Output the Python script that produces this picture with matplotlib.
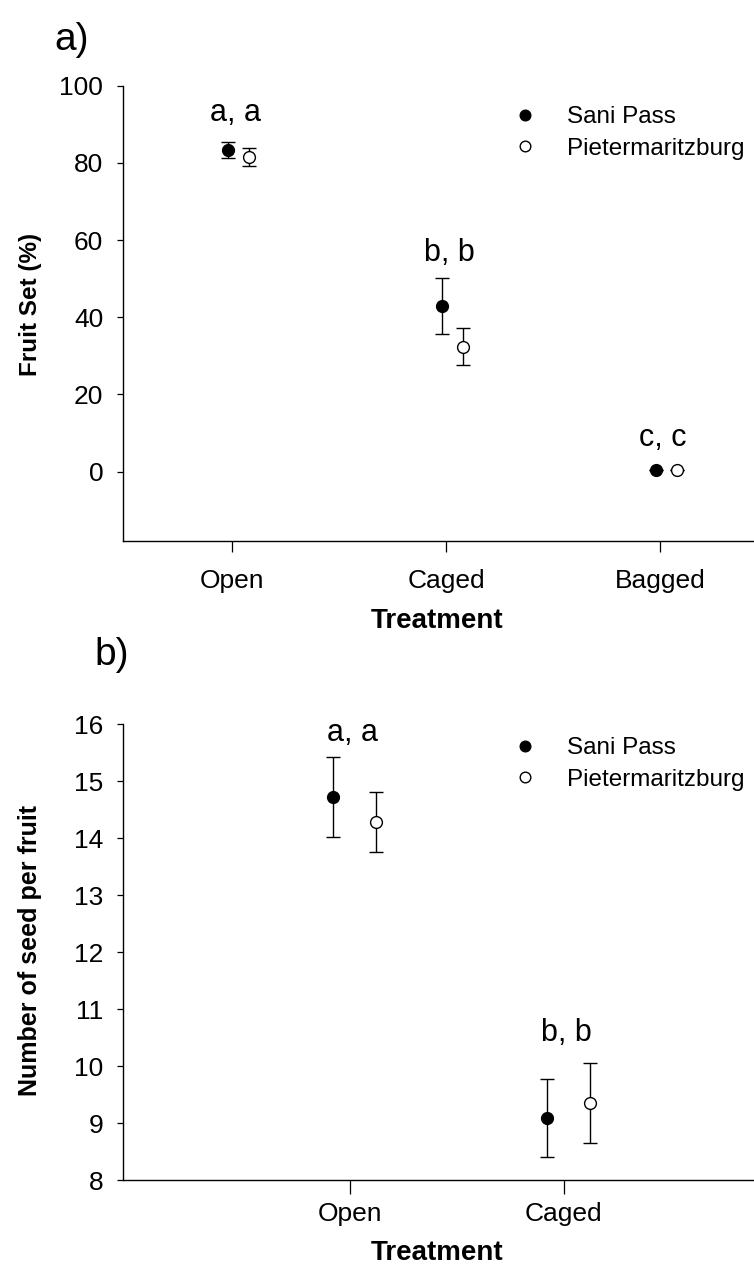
import numpy as np
import matplotlib
matplotlib.use("Agg")
import matplotlib.pyplot as plt

plt.rcParams['font.family'] = ['Liberation Sans', 'DejaVu Sans']

# panel a) fruit set
treat_a = ['Open', 'Caged', 'Bagged']
sani_a = [83.3, 42.9, 0.3]
sani_a_err = [2.0, 7.3, 0.0]
piet_a = [81.5, 32.4, 0.3]
piet_a_err = [2.3, 4.7, 0.0]
letters_a = ['a, a', 'b, b', 'c, c']
letters_a_y = [93.0, 56.7, 8.7]

# panel b) seeds per fruit
treat_b = ['Open', 'Caged']
sani_b = [14.73, 9.09]
sani_b_err = [0.70, 0.68]
piet_b = [14.28, 9.35]
piet_b_err = [0.53, 0.70]
letters_b = ['a, a', 'b, b']
letters_b_y = [15.85, 10.58]

W, H = 754, 1272
fig = plt.figure(figsize=(W / 100, H / 100), dpi=100)

def px_axes(left, top, bottom, right=W):
    return fig.add_axes([left / W, 1 - bottom / H, (right - left) / W, (bottom - top) / H])

FS = 19

def style(ax, xtick_len, xpad):
    for s in ['top', 'right']:
        ax.spines[s].set_visible(False)
    for s in ['left', 'bottom']:
        ax.spines[s].set_linewidth(1.0)
    ax.tick_params(axis='y', direction='out', length=4.5, width=0.9, labelsize=FS, pad=10)
    ax.tick_params(axis='x', direction='out', length=xtick_len, width=0.9, labelsize=FS, pad=xpad)

def draw(ax, x, sani, sani_err, piet, piet_err, off_s, off_p):
    x = np.arange(1, len(x) + 1)
    kw = dict(fmt='o', ms=8.5, ecolor='black', elinewidth=1.0, capsize=4.8,
              capthick=1.0, mec='black', mew=1.0, zorder=3)
    ax.errorbar(x + off_s, sani, yerr=sani_err, mfc='black', label='Sani Pass', **kw)
    ax.errorbar(x + off_p, piet, yerr=piet_err, mfc='white', label='Pietermaritzburg', **kw)

def labels(ax, ylabel, ylab_y, xlab_y, ysize):
    ax.set_ylabel(ylabel, fontsize=ysize, fontweight='bold')
    ax.set_xlabel('Treatment', fontsize=20, fontweight='bold')
    inv = ax.transAxes.inverted()
    disp = fig.transFigure.transform
    ax.yaxis.set_label_coords(*inv.transform(disp((30 / W, 1 - ylab_y / H))))
    ax.xaxis.set_label_coords(*inv.transform(disp((437 / W, 1 - xlab_y / H))))
    ax.yaxis.label.set_va('center')
    ax.xaxis.label.set_va('center')

def legend(ax, top):
    h, l = ax.get_legend_handles_labels()
    ax.legend([hh[0] for hh in h], l, loc='upper left', bbox_to_anchor=(512 / W, 1 - top / H),
              bbox_transform=fig.transFigure, frameon=False, fontsize=17.5, markerscale=0.9,
              handlelength=1.05, handletextpad=1.2, labelspacing=0.4, borderpad=0,
              borderaxespad=0)

# ---- panel a
ax1 = px_axes(123.3, 85.7, 541)
draw(ax1, treat_a, sani_a, sani_a_err, piet_a, piet_a_err, -0.02, 0.08)
ax1.set_xlim(0.49, 3.44)
ax1.set_ylim(-18, 100)
ax1.set_yticks([0, 20, 40, 60, 80, 100])
ax1.set_xticks([1, 2, 3])
ax1.set_xticklabels(treat_a)
style(ax1, 8, 12)
for i, (t, y) in enumerate(zip(letters_a, letters_a_y)):
    ax1.text(i + 1 + 0.015, y, t, ha='center', va='center', fontsize=22)
labels(ax1, 'Fruit Set (%)', 304, 621, 17.5)
legend(ax1, 106)
fig.text(72 / W, 1 - 40 / H, 'a)', fontsize=28, ha='center', va='center')

# ---- panel b
ax2 = px_axes(123.3, 724.3, 1180)
draw(ax2, treat_b, sani_b, sani_b_err, piet_b, piet_b_err, -0.08, 0.12)
ax2.set_xlim(-0.063, 2.89)
ax2.set_ylim(8, 16)
ax2.set_yticks(np.arange(8, 17, 1))
ax2.set_xticks([1, 2])
ax2.set_xticklabels(treat_b)
style(ax2, 10, 6)
for i, (t, y) in enumerate(zip(letters_b, letters_b_y)):
    ax2.text(i + 1 + 0.01, y, t, ha='center', va='center', fontsize=22)
labels(ax2, 'Number of seed per fruit', 950, 1253, 18)
legend(ax2, 737)
fig.text(112 / W, 1 - 655 / H, 'b)', fontsize=28, ha='center', va='center')

fig.savefig('out.png', dpi=100)
